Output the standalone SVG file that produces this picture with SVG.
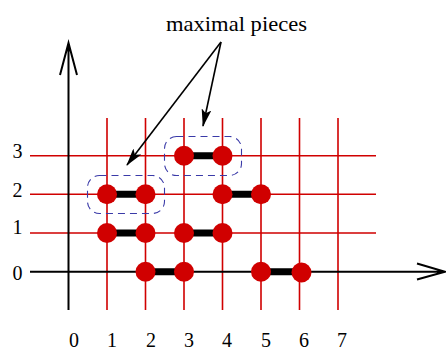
<svg xmlns="http://www.w3.org/2000/svg" width="446" height="350" viewBox="0 0 446 350">
<defs>
<marker id="ah" markerWidth="18" markerHeight="10" refX="17" refY="5" orient="auto" markerUnits="userSpaceOnUse">
<path d="M0,0 L18,5 L0,10 L4,5 Z" fill="#000"/>
</marker>
<style>
.grid{stroke:#d00000;stroke-width:1.6;fill:none}
.axis{stroke:#000;stroke-width:2;fill:none}
.bar{stroke:#000;stroke-width:7}
.dot{fill:#d00000}
.box{fill:none;stroke:#3a3aa8;stroke-width:1.1;stroke-dasharray:7 5}
.lbl{font-family:"Liberation Serif","Times New Roman",serif;font-size:20px;fill:#000}
.big{font-size:22px}
.ptr{stroke:#000;stroke-width:1.6;fill:none}
</style>
</defs>
<g id="grid">
<path class="grid" d="M107,118V310M145.5,118V310M184,118V310M222.5,118V310M261,118V310M299.5,118V310M338,118V310"/>
<path class="grid" d="M30,155.7H376M30,194.3H376M30,233H376"/>
</g>
<g id="axes">
<path class="axis" d="M30,271.7H445M417,263.5L445,271.7L417,279.5"/>
<path class="axis" d="M68.5,310V43M60,75L68.5,43L77,75"/>
</g>
<g id="tick-labels" class="lbl">
<text x="17.5" y="158" text-anchor="middle">3</text>
<text x="17.5" y="196.5" text-anchor="middle">2</text>
<text x="17.5" y="234" text-anchor="middle">1</text>
<text x="17.5" y="280" text-anchor="middle">0</text>
<text x="74" y="347" text-anchor="middle">0</text>
<text x="112" y="347" text-anchor="middle">1</text>
<text x="151" y="347" text-anchor="middle">2</text>
<text x="189" y="347" text-anchor="middle">3</text>
<text x="227" y="347" text-anchor="middle">4</text>
<text x="266" y="347" text-anchor="middle">5</text>
<text x="304" y="347" text-anchor="middle">6</text>
<text x="342" y="347" text-anchor="middle">7</text>
</g>
<g id="pieces">
<path class="bar" d="M107,194.3H145.5M222.5,194.3H261M107,233H145.5M184,233H222.5M145.5,271.7H184M261,271.7H301M184,155.7H222.5"/>
<circle class="dot" cx="107" cy="194.3" r="10"/>
<circle class="dot" cx="145.5" cy="194.3" r="10"/>
<circle class="dot" cx="222.5" cy="194.3" r="10"/>
<circle class="dot" cx="261" cy="194.3" r="10"/>
<circle class="dot" cx="107" cy="233" r="10"/>
<circle class="dot" cx="145.5" cy="233" r="10"/>
<circle class="dot" cx="184" cy="233" r="10"/>
<circle class="dot" cx="222.5" cy="233" r="10"/>
<circle class="dot" cx="145.5" cy="271.7" r="10"/>
<circle class="dot" cx="184" cy="271.7" r="10"/>
<circle class="dot" cx="261" cy="271.7" r="10"/>
<circle class="dot" cx="301.5" cy="272.5" r="10"/>
<circle class="dot" cx="184" cy="155.7" r="10"/>
<circle class="dot" cx="222.5" cy="155.7" r="10"/>
</g>
<g id="maximal-boxes">
<rect class="box" x="87.5" y="175.5" width="77" height="38" rx="12"/>
<rect class="box" x="164.5" y="136.5" width="77" height="39" rx="12"/>
</g>
<g id="label">
<text class="lbl big" x="166" y="31" textLength="141" lengthAdjust="spacingAndGlyphs">maximal pieces</text>
</g>
<g id="connectors">
<path class="ptr" d="M221,42L127,165" marker-end="url(#ah)"/>
<path class="ptr" d="M221,42L203,126" marker-end="url(#ah)"/>
</g>
</svg>
